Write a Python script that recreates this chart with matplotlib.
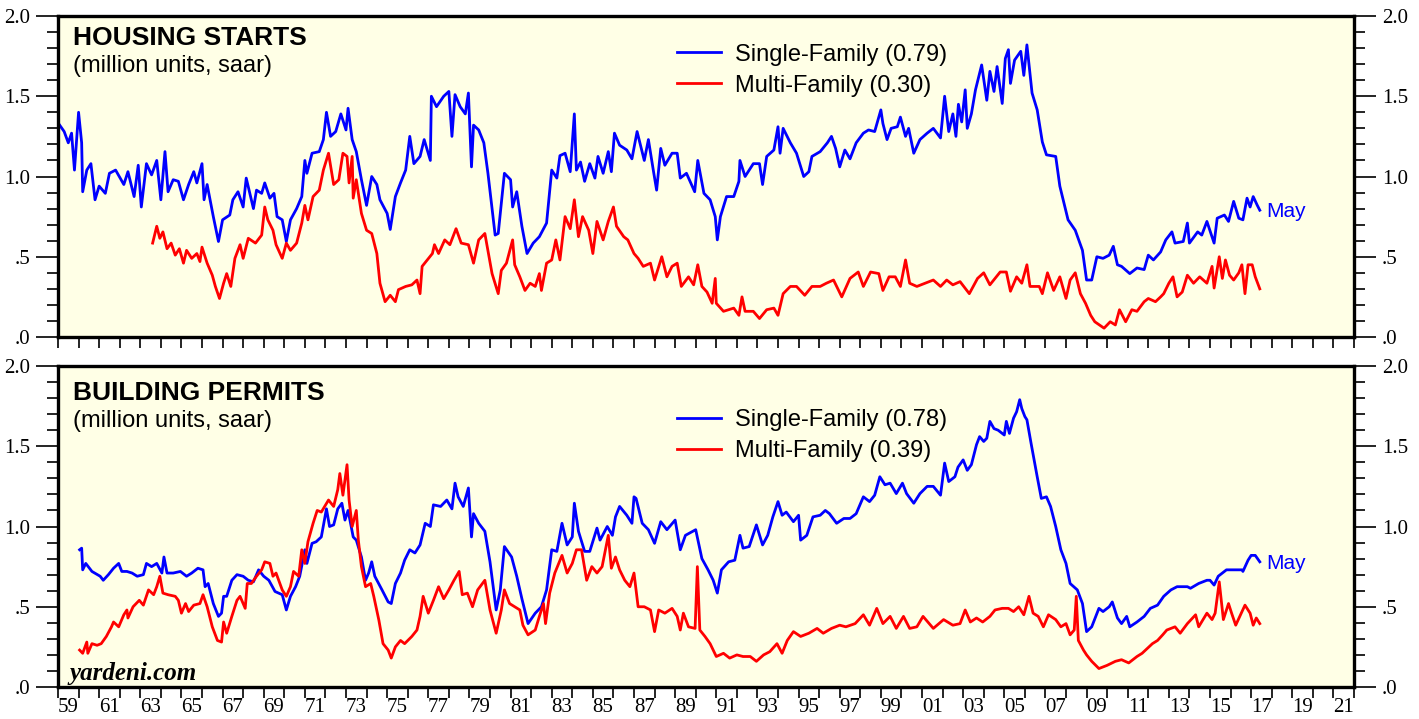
import matplotlib
matplotlib.use('Agg')
import matplotlib.pyplot as plt
from matplotlib.ticker import MultipleLocator, FixedLocator, FixedFormatter, FuncFormatter

# Housing starts, single-family (million units, saar)
hs_sf_x = [1959.0, 1959.3, 1959.5, 1959.66, 1959.8, 1960.0, 1960.15, 1960.2, 1960.4, 1960.6, 1960.8,
           1961.0, 1961.3, 1961.5, 1961.8, 1962.2, 1962.4, 1962.7, 1962.9, 1963.05, 1963.3, 1963.55,
           1963.8, 1964.0, 1964.2, 1964.35, 1964.6, 1964.85, 1965.1, 1965.35, 1965.6, 1965.75, 1966.0,
           1966.1, 1966.25, 1966.55, 1966.8, 1967.0, 1967.35, 1967.5, 1967.75, 1968.0, 1968.15, 1968.5,
           1968.65, 1968.9, 1969.05, 1969.3, 1969.5, 1969.65, 1969.9, 1970.1, 1970.3, 1970.6, 1970.85,
           1971.0, 1971.1, 1971.35, 1971.7, 1971.9, 1972.05, 1972.25, 1972.5, 1972.75, 1973.0, 1973.1,
           1973.3, 1973.5, 1973.75, 1974.0, 1974.25, 1974.5, 1974.65, 1975.0, 1975.15, 1975.4, 1975.65,
           1975.9, 1976.1, 1976.3, 1976.6, 1976.8, 1977.1, 1977.15, 1977.4, 1977.75, 1978.0, 1978.15,
           1978.3, 1978.55, 1978.8, 1978.95, 1979.1, 1979.2, 1979.45, 1979.7, 1979.9, 1980.25, 1980.4,
           1980.7, 1981.0, 1981.1, 1981.3, 1981.55, 1981.8, 1982.1, 1982.4, 1982.75, 1983.0, 1983.25,
           1983.4, 1983.65, 1983.9, 1984.1, 1984.2, 1984.4, 1984.6, 1984.85, 1985.1, 1985.25, 1985.5,
           1985.75, 1985.9, 1986.05, 1986.3, 1986.65, 1986.9, 1987.15, 1987.5, 1987.7, 1987.95, 1988.1,
           1988.3, 1988.5, 1988.85, 1989.1, 1989.25, 1989.55, 1989.95, 1990.1, 1990.4, 1990.7, 1990.95,
           1991.05, 1991.2, 1991.5, 1991.85, 1992.1, 1992.15, 1992.4, 1992.8, 1993.1, 1993.25, 1993.45,
           1993.8, 1994.0, 1994.1, 1994.25, 1994.6, 1994.9, 1995.25, 1995.5, 1995.65, 1996.05, 1996.4,
           1996.6, 1996.8, 1997.0, 1997.25, 1997.5, 1997.8, 1998.15, 1998.4, 1998.7, 1999.0, 1999.1,
           1999.3, 1999.5, 1999.8, 1999.95, 2000.2, 2000.35, 2000.6, 2000.9, 2001.25, 2001.55, 2001.9,
           2002.1, 2002.3, 2002.5, 2002.65, 2002.77, 2002.93, 2003.1, 2003.2, 2003.4, 2003.6, 2003.9,
           2004.15, 2004.3, 2004.5, 2004.65, 2004.9, 2005.05, 2005.2, 2005.3, 2005.5, 2005.8, 2005.95,
           2006.1, 2006.35, 2006.6, 2006.85, 2007.05, 2007.5, 2007.7, 2008.1, 2008.45, 2008.8, 2009.0,
           2009.25, 2009.5, 2009.8, 2010.1, 2010.3, 2010.5, 2010.7, 2011.1, 2011.45, 2011.8, 2012.0,
           2012.25, 2012.6, 2012.85, 2013.15, 2013.3, 2013.7, 2013.9, 2014.0, 2014.4, 2014.6, 2014.85,
           2015.2, 2015.35, 2015.7, 2015.9, 2016.15, 2016.4, 2016.6, 2016.8, 2016.95, 2017.1, 2017.3,
           2017.42]
hs_sf_y = [1.335, 1.28, 1.21, 1.27, 1.04, 1.40, 1.21, 0.905, 1.04, 1.08, 0.855,
           0.94, 0.895, 1.02, 1.04, 0.95, 1.03, 0.875, 1.07, 0.81, 1.08, 1.01,
           1.10, 0.855, 1.155, 0.905, 0.98, 0.97, 0.855, 0.95, 1.03, 0.96, 1.08,
           0.855, 0.95, 0.75, 0.595, 0.73, 0.76, 0.855, 0.905, 0.81, 0.99, 0.80,
           0.915, 0.895, 0.96, 0.865, 0.895, 0.75, 0.73, 0.595, 0.73, 0.80, 0.875,
           1.10, 1.02, 1.145, 1.155, 1.23, 1.40, 1.25, 1.28, 1.39, 1.29, 1.425,
           1.23, 1.155, 0.98, 0.82, 1.00, 0.95, 0.855, 0.77, 0.67, 0.875, 0.96,
           1.04, 1.25, 1.08, 1.125, 1.23, 1.10, 1.50, 1.435, 1.50, 1.53, 1.25,
           1.51, 1.435, 1.39, 1.52, 1.06, 1.32, 1.29, 1.21, 1.02, 0.635, 0.645,
           1.02, 0.98, 0.81, 0.905, 0.69, 0.52, 0.585, 0.625, 0.71, 1.04, 0.99,
           1.13, 1.145, 1.03, 1.39, 1.04, 1.09, 0.97, 1.08, 0.99, 1.125, 1.02,
           1.155, 1.03, 1.27, 1.195, 1.165, 1.11, 1.28, 1.10, 1.23, 1.03, 0.915,
           1.175, 1.07, 1.145, 1.145, 0.99, 1.02, 0.905, 1.10, 0.895, 0.855, 0.75,
           0.605, 0.75, 0.875, 0.875, 0.97, 1.10, 1.00, 1.08, 1.08, 0.95, 1.125,
           1.165, 1.31, 1.145, 1.30, 1.21, 1.145, 1.00, 1.03, 1.125, 1.155, 1.21,
           1.25, 1.175, 1.06, 1.165, 1.11, 1.21, 1.27, 1.29, 1.28, 1.415, 1.33,
           1.23, 1.30, 1.31, 1.37, 1.25, 1.30, 1.145, 1.23, 1.27, 1.30, 1.24,
           1.50, 1.28, 1.39, 1.25, 1.45, 1.34, 1.54, 1.30, 1.39, 1.54, 1.695,
           1.475, 1.655, 1.53, 1.685, 1.455, 1.735, 1.79, 1.58, 1.725, 1.78, 1.63,
           1.82, 1.52, 1.415, 1.215, 1.135, 1.125, 0.94, 0.73, 0.665, 0.54, 0.355,
           0.355, 0.50, 0.49, 0.51, 0.565, 0.45, 0.44, 0.395, 0.43, 0.42, 0.51,
           0.48, 0.53, 0.605, 0.655, 0.585, 0.595, 0.71, 0.585, 0.655, 0.635, 0.72,
           0.585, 0.74, 0.76, 0.72, 0.845, 0.74, 0.73, 0.865, 0.81, 0.875, 0.82,
           0.79]

# Housing starts, multi-family
hs_mf_x = [1963.6, 1963.8, 1963.95, 1964.1, 1964.3, 1964.5, 1964.7, 1964.9, 1965.1, 1965.25, 1965.5,
           1965.75, 1965.9, 1966.0, 1966.25, 1966.5, 1966.65, 1966.85, 1967.05, 1967.2, 1967.4, 1967.6,
           1967.85, 1968.0, 1968.25, 1968.6, 1968.9, 1969.05, 1969.2, 1969.45, 1969.6, 1969.9, 1970.1,
           1970.3, 1970.6, 1970.85, 1971.0, 1971.15, 1971.4, 1971.7, 1971.9, 1972.15, 1972.4, 1972.65,
           1972.85, 1973.05, 1973.15, 1973.3, 1973.35, 1973.5, 1973.75, 1974.0, 1974.25, 1974.5, 1974.65,
           1974.9, 1975.15, 1975.4, 1975.55, 1975.9, 1976.2, 1976.45, 1976.6, 1976.7, 1976.95, 1977.2,
           1977.3, 1977.5, 1977.8, 1978.05, 1978.35, 1978.6, 1978.95, 1979.2, 1979.45, 1979.75, 1980.1,
           1980.4, 1980.55, 1980.8, 1981.1, 1981.2, 1981.45, 1981.7, 1981.95, 1982.2, 1982.4, 1982.5,
           1982.75, 1983.0, 1983.2, 1983.4, 1983.65, 1983.9, 1984.1, 1984.3, 1984.5, 1984.8, 1985.0,
           1985.2, 1985.5, 1985.75, 1986.0, 1986.15, 1986.5, 1986.7, 1987.0, 1987.2, 1987.45, 1987.8,
           1988.0, 1988.35, 1988.6, 1988.85, 1989.1, 1989.3, 1989.65, 1989.9, 1990.1, 1990.3, 1990.55,
           1990.8, 1990.95, 1991.0, 1991.35, 1991.85, 1992.1, 1992.25, 1992.4, 1992.8, 1993.1, 1993.45,
           1993.8, 1994.0, 1994.25, 1994.6, 1994.9, 1995.3, 1995.65, 1996.05, 1996.35, 1996.7, 1997.1,
           1997.5, 1997.9, 1998.15, 1998.5, 1998.9, 1999.1, 1999.4, 1999.7, 1999.95, 2000.2, 2000.4,
           2000.75, 2001.15, 2001.55, 2001.9, 2002.2, 2002.5, 2002.85, 2003.3, 2003.7, 2004.0, 2004.3,
           2004.8, 2005.1, 2005.3, 2005.6, 2005.85, 2006.1, 2006.25, 2006.7, 2006.85, 2007.1, 2007.4,
           2007.7, 2008.0, 2008.2, 2008.45, 2008.7, 2008.95, 2009.2, 2009.4, 2009.85, 2010.15, 2010.4,
           2010.6, 2010.9, 2011.2, 2011.45, 2011.8, 2012.0, 2012.35, 2012.6, 2012.75, 2013.0, 2013.2,
           2013.4, 2013.65, 2013.9, 2014.2, 2014.5, 2014.85, 2015.1, 2015.2, 2015.45, 2015.6, 2015.75,
           2015.95, 2016.15, 2016.4, 2016.55, 2016.7, 2016.85, 2017.05, 2017.2, 2017.42]
hs_mf_y = [0.585, 0.69, 0.615, 0.655, 0.55, 0.585, 0.51, 0.55, 0.46, 0.54, 0.49,
           0.52, 0.47, 0.56, 0.46, 0.385, 0.315, 0.24, 0.335, 0.395, 0.315, 0.49,
           0.575, 0.49, 0.615, 0.585, 0.635, 0.81, 0.73, 0.665, 0.575, 0.49, 0.585,
           0.54, 0.585, 0.71, 0.82, 0.73, 0.875, 0.915, 1.04, 1.145, 0.95, 0.98,
           1.145, 1.125, 0.96, 1.125, 0.865, 0.98, 0.77, 0.665, 0.645, 0.52, 0.335,
           0.22, 0.26, 0.22, 0.295, 0.315, 0.325, 0.355, 0.27, 0.44, 0.48, 0.52,
           0.575, 0.52, 0.605, 0.575, 0.675, 0.585, 0.575, 0.46, 0.605, 0.645, 0.395,
           0.27, 0.415, 0.46, 0.605, 0.45, 0.375, 0.29, 0.335, 0.315, 0.395, 0.29,
           0.46, 0.48, 0.605, 0.48, 0.75, 0.675, 0.855, 0.625, 0.75, 0.665, 0.52,
           0.72, 0.605, 0.72, 0.81, 0.69, 0.625, 0.605, 0.52, 0.49, 0.44, 0.46,
           0.355, 0.50, 0.375, 0.44, 0.46, 0.315, 0.375, 0.325, 0.45, 0.315, 0.28,
           0.21, 0.365, 0.21, 0.16, 0.18, 0.135, 0.25, 0.16, 0.16, 0.115, 0.17,
           0.18, 0.135, 0.27, 0.315, 0.315, 0.26, 0.315, 0.315, 0.335, 0.355, 0.25,
           0.365, 0.405, 0.315, 0.405, 0.395, 0.29, 0.375, 0.375, 0.315, 0.48, 0.335,
           0.315, 0.335, 0.355, 0.315, 0.355, 0.325, 0.345, 0.27, 0.365, 0.40, 0.325,
           0.405, 0.405, 0.285, 0.375, 0.335, 0.45, 0.315, 0.315, 0.27, 0.40, 0.29,
           0.375, 0.24, 0.355, 0.40, 0.27, 0.21, 0.135, 0.095, 0.055, 0.095, 0.075,
           0.17, 0.095, 0.17, 0.16, 0.22, 0.24, 0.22, 0.25, 0.27, 0.335, 0.375,
           0.25, 0.28, 0.385, 0.335, 0.375, 0.335, 0.44, 0.305, 0.50, 0.365, 0.48,
           0.385, 0.355, 0.40, 0.45, 0.27, 0.45, 0.45, 0.375, 0.30]

# Building permits, single-family
bp_sf_x = [1960.05, 1960.15, 1960.2, 1960.35, 1960.65, 1961.05, 1961.2, 1961.45, 1961.7, 1961.95, 1962.1,
           1962.35, 1962.6, 1962.85, 1963.15, 1963.3, 1963.55, 1963.8, 1964.05, 1964.15, 1964.3, 1964.6,
           1964.95, 1965.25, 1965.5, 1965.8, 1966.05, 1966.15, 1966.3, 1966.55, 1966.8, 1966.95, 1967.05,
           1967.2, 1967.45, 1967.7, 1968.0, 1968.25, 1968.5, 1968.75, 1969.0, 1969.25, 1969.55, 1969.9,
           1970.1, 1970.3, 1970.55, 1970.75, 1971.0, 1971.1, 1971.35, 1971.55, 1971.8, 1972.05, 1972.2,
           1972.4, 1972.6, 1972.8, 1972.95, 1973.1, 1973.35, 1973.5, 1973.75, 1973.95, 1974.1, 1974.25,
           1974.4, 1974.75, 1975.05, 1975.2, 1975.4, 1975.65, 1975.85, 1976.1, 1976.35, 1976.6, 1976.85,
           1977.1, 1977.25, 1977.6, 1977.9, 1978.15, 1978.3, 1978.45, 1978.7, 1978.95, 1979.1, 1979.2,
           1979.45, 1979.75, 1980.0, 1980.3, 1980.5, 1980.7, 1981.05, 1981.3, 1981.55, 1981.85, 1982.2,
           1982.5, 1982.75, 1983.0, 1983.25, 1983.5, 1983.75, 1984.0, 1984.1, 1984.3, 1984.6, 1984.85,
           1985.2, 1985.35, 1985.7, 1985.95, 1986.1, 1986.3, 1986.65, 1986.9, 1987.0, 1987.1, 1987.4,
           1987.7, 1988.0, 1988.3, 1988.6, 1989.0, 1989.25, 1989.5, 1990.0, 1990.3, 1990.6, 1990.85,
           1991.05, 1991.25, 1991.6, 1991.9, 1992.15, 1992.3, 1992.6, 1992.95, 1993.25, 1993.5, 1993.75,
           1994.0, 1994.2, 1994.4, 1994.75, 1995.0, 1995.1, 1995.4, 1995.7, 1996.05, 1996.3, 1996.5,
           1996.85, 1997.2, 1997.5, 1997.8, 1998.15, 1998.45, 1998.7, 1998.95, 1999.2, 1999.45, 1999.75,
           2000.05, 2000.25, 2000.6, 2000.9, 2001.25, 2001.55, 2001.9, 2002.1, 2002.3, 2002.6, 2002.75,
           2003.0, 2003.2, 2003.4, 2003.65, 2003.8, 2004.0, 2004.15, 2004.3, 2004.5, 2004.7, 2005.0,
           2005.1, 2005.25, 2005.45, 2005.6, 2005.75, 2005.85, 2006.0, 2006.1, 2006.3, 2006.6, 2006.8,
           2007.05, 2007.25, 2007.5, 2007.75, 2008.0, 2008.2, 2008.55, 2008.8, 2009.0, 2009.25, 2009.6,
           2009.8, 2010.1, 2010.25, 2010.5, 2010.7, 2010.95, 2011.1, 2011.45, 2011.8, 2012.1, 2012.45,
           2012.75, 2013.1, 2013.4, 2013.9, 2014.05, 2014.45, 2014.85, 2015.0, 2015.2, 2015.4, 2015.8,
           2016.15, 2016.55, 2016.6, 2016.85, 2017.0, 2017.2, 2017.42]
bp_sf_y = [0.855, 0.865, 0.73, 0.77, 0.72, 0.69, 0.665, 0.70, 0.74, 0.77, 0.72,
           0.72, 0.71, 0.69, 0.70, 0.77, 0.75, 0.77, 0.71, 0.81, 0.71, 0.71,
           0.72, 0.69, 0.71, 0.74, 0.73, 0.625, 0.645, 0.52, 0.44, 0.46, 0.565,
           0.565, 0.665, 0.70, 0.69, 0.665, 0.655, 0.73, 0.69, 0.665, 0.595, 0.575,
           0.48, 0.565, 0.625, 0.69, 0.855, 0.77, 0.895, 0.905, 0.935, 1.11, 1.00,
           1.01, 1.11, 1.145, 1.04, 1.10, 0.935, 0.915, 0.81, 0.665, 0.71, 0.78,
           0.69, 0.605, 0.53, 0.52, 0.645, 0.71, 0.79, 0.855, 0.835, 0.885, 1.02,
           1.00, 1.135, 1.125, 1.165, 1.11, 1.27, 1.185, 1.125, 1.24, 0.935, 1.08,
           1.02, 0.97, 0.78, 0.48, 0.605, 0.875, 0.81, 0.69, 0.55, 0.395, 0.46,
           0.50, 0.605, 0.855, 0.845, 1.02, 0.885, 0.935, 1.145, 0.97, 0.845, 0.845,
           0.99, 0.915, 1.00, 0.945, 1.06, 1.125, 1.07, 1.02, 1.185, 1.175, 1.02,
           0.98, 0.895, 1.03, 0.98, 1.04, 0.855, 0.945, 0.98, 0.80, 0.73, 0.665,
           0.585, 0.73, 0.78, 0.79, 0.945, 0.865, 0.875, 1.01, 0.885, 0.945, 1.06,
           1.155, 1.07, 1.09, 1.03, 1.07, 0.915, 0.945, 1.06, 1.07, 1.10, 1.08,
           1.02, 1.05, 1.05, 1.08, 1.185, 1.155, 1.195, 1.31, 1.26, 1.27, 1.205,
           1.27, 1.205, 1.145, 1.205, 1.25, 1.25, 1.195, 1.395, 1.28, 1.31, 1.37,
           1.415, 1.35, 1.385, 1.51, 1.56, 1.53, 1.55, 1.655, 1.61, 1.60, 1.57,
           1.655, 1.58, 1.675, 1.715, 1.79, 1.735, 1.685, 1.665, 1.52, 1.31, 1.175,
           1.185, 1.125, 1.00, 0.855, 0.77, 0.645, 0.605, 0.52, 0.345, 0.375, 0.49,
           0.47, 0.50, 0.53, 0.43, 0.395, 0.44, 0.375, 0.405, 0.44, 0.49, 0.51,
           0.565, 0.605, 0.625, 0.625, 0.615, 0.645, 0.665, 0.665, 0.635, 0.69, 0.73,
           0.73, 0.73, 0.72, 0.79, 0.82, 0.82, 0.78]

# Building permits, multi-family
bp_mf_x = [1960.05, 1960.2, 1960.4, 1960.45, 1960.65, 1960.9, 1961.1, 1961.35, 1961.6, 1961.7, 1961.95,
           1962.2, 1962.35, 1962.4, 1962.65, 1962.95, 1963.15, 1963.4, 1963.65, 1963.8, 1963.95, 1964.1,
           1964.35, 1964.7, 1964.85, 1965.0, 1965.2, 1965.35, 1965.6, 1965.9, 1966.05, 1966.25, 1966.5,
           1966.75, 1966.95, 1967.05, 1967.2, 1967.45, 1967.7, 1967.85, 1968.1, 1968.2, 1968.4, 1968.65,
           1968.9, 1969.05, 1969.3, 1969.45, 1969.6, 1969.9, 1970.1, 1970.3, 1970.45, 1970.7, 1970.85,
           1971.0, 1971.15, 1971.4, 1971.6, 1971.8, 1972.15, 1972.4, 1972.6, 1972.7, 1972.85, 1973.05,
           1973.15, 1973.3, 1973.5, 1973.6, 1973.75, 1973.95, 1974.2, 1974.35, 1974.6, 1974.8, 1975.05,
           1975.2, 1975.4, 1975.65, 1975.85, 1976.2, 1976.45, 1976.6, 1976.75, 1977.0, 1977.25, 1977.5,
           1977.75, 1978.0, 1978.25, 1978.5, 1978.65, 1978.9, 1979.15, 1979.4, 1979.75, 1980.0, 1980.3,
           1980.55, 1980.7, 1980.95, 1981.2, 1981.45, 1981.6, 1981.85, 1982.2, 1982.4, 1982.6, 1982.7,
           1982.9, 1983.15, 1983.5, 1983.75, 1984.0, 1984.2, 1984.45, 1984.7, 1984.95, 1985.2, 1985.45,
           1985.75, 1985.9, 1986.1, 1986.3, 1986.55, 1986.8, 1987.0, 1987.2, 1987.5, 1987.8, 1988.0,
           1988.2, 1988.5, 1988.85, 1989.1, 1989.25, 1989.4, 1989.65, 1989.97, 1990.08, 1990.2, 1990.45,
           1990.7, 1991.0, 1991.35, 1991.65, 1992.0, 1992.3, 1992.65, 1992.95, 1993.3, 1993.6, 1993.95,
           1994.2, 1994.45, 1994.75, 1995.1, 1995.5, 1995.9, 1996.2, 1996.6, 1997.0, 1997.3, 1997.75,
           1998.15, 1998.45, 1998.8, 1999.1, 1999.45, 1999.75, 2000.1, 2000.4, 2000.75, 2001.05, 2001.55,
           2002.05, 2002.5, 2002.85, 2003.1, 2003.35, 2003.65, 2003.95, 2004.3, 2004.55, 2004.9, 2005.2,
           2005.45, 2005.7, 2005.95, 2006.2, 2006.4, 2006.65, 2006.9, 2007.15, 2007.5, 2007.75, 2008.0,
           2008.2, 2008.4, 2008.5, 2008.6, 2008.85, 2009.0, 2009.25, 2009.6, 2010.0, 2010.4, 2010.7,
           2011.05, 2011.45, 2011.7, 2011.95, 2012.2, 2012.45, 2012.7, 2012.9, 2013.3, 2013.55, 2013.9,
           2014.3, 2014.45, 2014.85, 2015.1, 2015.25, 2015.45, 2015.65, 2015.9, 2016.05, 2016.25, 2016.45,
           2016.7, 2016.95, 2017.1, 2017.25, 2017.42]
bp_mf_y = [0.23, 0.21, 0.28, 0.21, 0.27, 0.26, 0.27, 0.315, 0.375, 0.405, 0.375,
           0.45, 0.48, 0.43, 0.50, 0.54, 0.51, 0.605, 0.575, 0.625, 0.69, 0.585,
           0.575, 0.565, 0.54, 0.46, 0.52, 0.47, 0.51, 0.52, 0.575, 0.50, 0.375,
           0.29, 0.28, 0.405, 0.335, 0.44, 0.54, 0.565, 0.49, 0.645, 0.645, 0.69,
           0.73, 0.78, 0.77, 0.69, 0.71, 0.605, 0.565, 0.625, 0.72, 0.69, 0.855,
           0.77, 0.905, 1.02, 1.10, 1.09, 1.165, 1.125, 1.23, 1.33, 1.195, 1.385,
           1.165, 1.00, 1.10, 0.915, 0.75, 0.625, 0.645, 0.565, 0.415, 0.27, 0.23,
           0.18, 0.25, 0.29, 0.27, 0.315, 0.355, 0.44, 0.565, 0.46, 0.54, 0.625,
           0.55, 0.605, 0.665, 0.72, 0.575, 0.585, 0.50, 0.605, 0.665, 0.48, 0.335,
           0.48, 0.605, 0.52, 0.50, 0.48, 0.385, 0.325, 0.355, 0.44, 0.52, 0.395,
           0.585, 0.71, 0.82, 0.71, 0.77, 0.855, 0.855, 0.665, 0.75, 0.71, 0.75,
           0.945, 0.74, 0.81, 0.73, 0.665, 0.625, 0.71, 0.50, 0.50, 0.48, 0.345,
           0.48, 0.46, 0.49, 0.44, 0.355, 0.46, 0.375, 0.365, 0.75, 0.355, 0.315,
           0.27, 0.19, 0.21, 0.18, 0.20, 0.19, 0.19, 0.16, 0.20, 0.22, 0.27,
           0.21, 0.29, 0.345, 0.315, 0.335, 0.365, 0.335, 0.365, 0.385, 0.375, 0.395,
           0.45, 0.385, 0.49, 0.395, 0.44, 0.365, 0.44, 0.365, 0.375, 0.44, 0.365,
           0.42, 0.385, 0.395, 0.48, 0.405, 0.43, 0.405, 0.44, 0.48, 0.49, 0.49,
           0.47, 0.50, 0.45, 0.565, 0.46, 0.44, 0.375, 0.45, 0.42, 0.375, 0.395,
           0.325, 0.355, 0.565, 0.29, 0.23, 0.20, 0.16, 0.115, 0.135, 0.16, 0.17,
           0.15, 0.19, 0.21, 0.24, 0.27, 0.29, 0.325, 0.355, 0.375, 0.335, 0.395,
           0.45, 0.375, 0.46, 0.42, 0.46, 0.655, 0.42, 0.52, 0.46, 0.385, 0.44,
           0.51, 0.46, 0.385, 0.43, 0.395]

year_labels = ['%02d' % (y % 100) for y in range(1959, 2022, 2)]

BLUE = '#0000ff'
RED = '#ff0000'
BG = '#ffffe6'
SANS = 'Liberation Sans'

plt.rcParams['font.family'] = 'Liberation Serif'

fig = plt.figure(figsize=(14.19, 7.19), dpi=100)
ax1 = fig.add_axes([58 / 1419, 1 - 337 / 719, 1296 / 1419, 321 / 719])
ax2 = fig.add_axes([58 / 1419, 1 - 687 / 719, 1296 / 1419, 321 / 719])


def ylab(v, pos):
    s = '%.1f' % v
    return s[1:] if s.startswith('0') else s


def style(ax, show_years):
    ax.set_facecolor(BG)
    ax.set_xlim(1959, 2022)
    ax.set_ylim(0, 2.0)
    for sp in ax.spines.values():
        sp.set_linewidth(2.4)
    ax.yaxis.set_major_locator(MultipleLocator(0.5))
    ax.yaxis.set_minor_locator(MultipleLocator(0.1))
    ax.yaxis.set_major_formatter(FuncFormatter(ylab))
    ax.tick_params(axis='y', which='both', direction='out', left=True, right=True,
                   labelleft=True, labelright=True, labelsize=15, width=1.2)
    ax.tick_params(axis='y', which='major', length=16, pad=4)
    ax.tick_params(axis='y', which='minor', length=8)
    ax.xaxis.set_major_locator(MultipleLocator(1))
    ax.xaxis.set_major_formatter(FuncFormatter(lambda v, p: ''))
    ax.xaxis.set_minor_locator(FixedLocator([y + 0.5 for y in range(1959, 2022, 2)]))
    ax.xaxis.set_minor_formatter(FixedFormatter(year_labels))
    ax.tick_params(axis='x', which='major', direction='out', length=8, width=1.2)
    ax.tick_params(axis='x', which='minor', length=0, labelsize=15, pad=8,
                   labelbottom=show_years)


def panel(ax, title, sf_x, sf_y, mf_x, mf_y, sf_last, mf_last, title_y, sub_y, leg_y):
    style(ax, ax is ax2)
    l1, = ax.plot(sf_x, sf_y, color=BLUE, lw=2.0)
    l2, = ax.plot(mf_x, mf_y, color=RED, lw=2.0)
    ax.text(0.0116, title_y, title, transform=ax.transAxes, family=SANS,
            fontweight='bold', fontsize=19)
    ax.text(0.0116, sub_y, '(million units, saar)', transform=ax.transAxes,
            family=SANS, fontsize=17)
    ax.legend([l1, l2], ['Single-Family (%.2f)' % sf_last, 'Multi-Family (%.2f)' % mf_last],
              loc='upper left', bbox_to_anchor=(0.4776, leg_y), frameon=False,
              prop={'family': SANS, 'size': 17}, handlelength=1.86, handletextpad=0.6,
              labelspacing=0.38, borderpad=0, borderaxespad=0)
    ax.annotate('May', (sf_x[-1], sf_y[-1]), xytext=(5, -1), textcoords='offset points',
                color=BLUE, family=SANS, fontsize=15, va='center', ha='left')


panel(ax1, 'HOUSING STARTS', hs_sf_x, hs_sf_y, hs_mf_x, hs_mf_y, 0.79, 0.30,
      0.91, 0.826, 0.914)
panel(ax2, 'BUILDING PERMITS', bp_sf_x, bp_sf_y, bp_mf_x, bp_mf_y, 0.78, 0.39,
      0.894, 0.809, 0.8645)

ax2.text(0.009, 0.022, 'yardeni.com', transform=ax2.transAxes, fontsize=18,
         fontweight='bold', fontstyle='italic', family='Liberation Serif')

fig.savefig('out.png', dpi=100, facecolor='white')
